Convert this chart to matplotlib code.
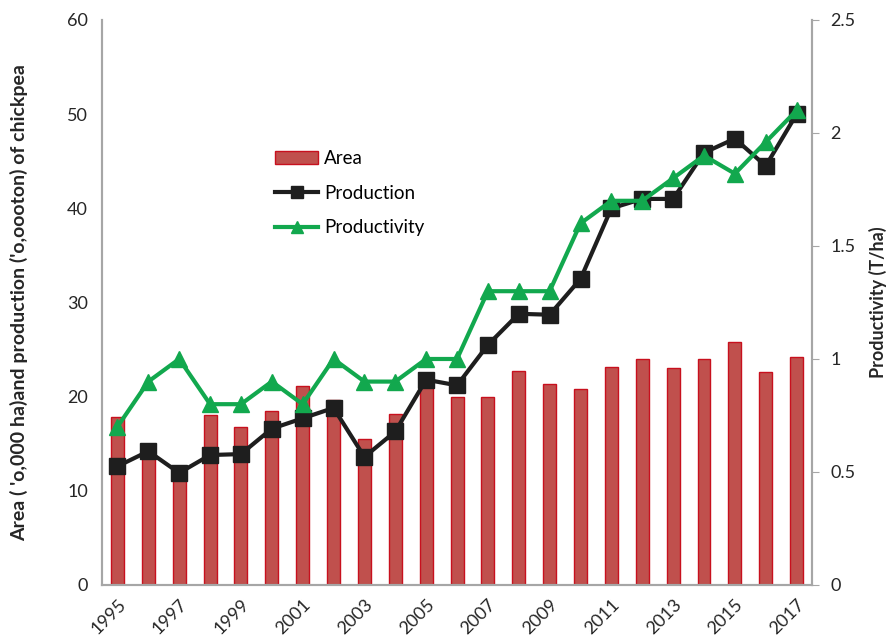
import numpy as np
import matplotlib.pyplot as plt
from matplotlib.patches import Patch
from matplotlib.lines import Line2D

plt.rcParams['font.family'] = ['Lato', 'DejaVu Sans']

years = list(range(1995, 2018))
area = [17.8, 15.0, 12.4, 18.0, 16.8, 18.5, 21.1, 19.6, 15.5, 18.2, 21.6, 20.0,
        20.0, 22.7, 21.3, 20.8, 23.2, 24.0, 23.0, 24.0, 25.8, 22.6, 24.2]
production = [12.6, 14.2, 11.9, 13.8, 13.9, 16.6, 17.7, 18.8, 13.6, 16.3, 21.8, 21.2,
              25.5, 28.8, 28.7, 32.5, 40.0, 41.0, 41.0, 45.9, 47.4, 44.5, 50.0]
productivity = [0.7, 0.9, 1.0, 0.8, 0.8, 0.9, 0.8, 1.0, 0.9, 0.9, 1.0, 1.0,
                1.3, 1.3, 1.3, 1.6, 1.7, 1.7, 1.8, 1.9, 1.82, 1.96, 2.1]

bar_col = '#C0504D'
edge_col = '#C8101E'
green = '#12A84E'
black = '#1E1E1E'
grey = '#A6A6A6'
txt = '#262626'

x = np.arange(len(years))

fig = plt.figure(figsize=(8.87, 6.41), dpi=100)
ax = fig.add_axes([0.115, 0.0874, 0.8005, 0.8814])
ax2 = ax.twinx()

ax.bar(x, area, width=0.42, color=bar_col, edgecolor=edge_col, linewidth=1, zorder=2)
ax.plot(x, production, color=black, lw=3, marker='s', ms=11, zorder=3)
ax2.plot(x, productivity, color=green, lw=3, marker='^', ms=11, zorder=3)

ax.set_xlim(-0.5, len(years) - 0.5)
ax.set_ylim(0, 60)
ax2.set_ylim(0, 2.5)
ax.set_yticks(range(0, 61, 10))
ax2.set_yticks([0, 0.5, 1, 1.5, 2, 2.5])
ax2.set_yticklabels(['0', '0.5', '1', '1.5', '2', '2.5'])

ax.set_xticks(x[::2])
ax.set_xticklabels([str(y) for y in years[::2]], rotation=45, ha='right',
                   rotation_mode='anchor', fontsize=13, color=txt)
ax.tick_params(axis='x', length=0, pad=8)
ax.tick_params(axis='y', length=0, labelsize=13, colors=txt, pad=10)
ax2.tick_params(axis='y', length=5, color=grey, labelsize=13, colors=txt, pad=8)

for a in (ax, ax2):
    a.spines['top'].set_visible(False)
    for s in ('left', 'right', 'bottom'):
        a.spines[s].set_color(grey)
        a.spines[s].set_linewidth(1.5)

ax.set_ylabel("Area ( 'o,000 ha)and production ('o,oooton) of chickpea",
              fontsize=14, fontweight='bold', color=txt, labelpad=28)
ax2.set_ylabel("Productivity (T/ha)", fontsize=13, fontweight='bold', color=txt, labelpad=10)

handles = [Patch(facecolor=bar_col, edgecolor=edge_col),
           Line2D([], [], color=black, lw=3, marker='s', ms=9),
           Line2D([], [], color=green, lw=3, marker='^', ms=9)]
ax2.legend(handles, ['Area', 'Production', 'Productivity'], loc='upper left',
           bbox_to_anchor=(0.22, 0.8), frameon=False, fontsize=13.5,
           handlelength=2.3, handletextpad=0.3, labelspacing=0.95)

fig.savefig('out.png', dpi=100)
